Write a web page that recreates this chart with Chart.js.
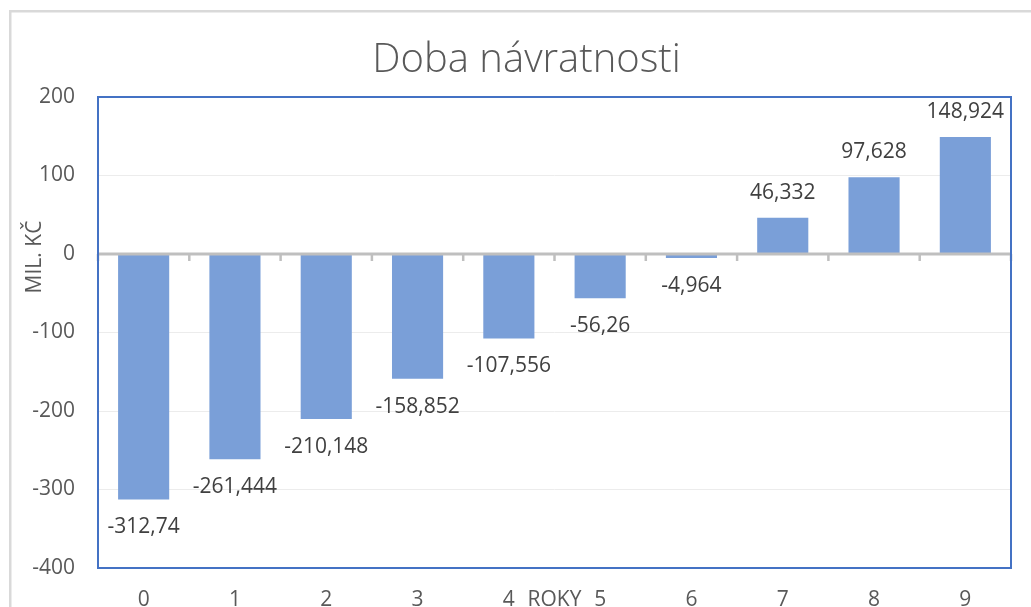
<!DOCTYPE html>
<html>
<head>
<meta charset="utf-8">
<script src="https://cdn.jsdelivr.net/npm/chart.js@4"></script>
<style>
html,body{margin:0;padding:0;background:#fff;}
#wrap{width:1031px;height:607px;position:relative;}
</style>
</head>
<body>
<div id="wrap"><canvas id="c" width="1031" height="607"></canvas></div>
<script>
const chartTitle = 'Doba návratnosti';
const xTitle = 'ROKY';
const yTitle = 'MIL. KČ';
const categories = ['0','1','2','3','4','5','6','7','8','9'];
const values = [-312.74, -261.444, -210.148, -158.852, -107.556, -56.26, -4.964, 46.332, 97.628, 148.924];
const yTicks = [-400, -300, -200, -100, 0, 100, 200];

const FONT = "'Open Sans', 'Noto Sans', sans-serif";
const fmt = v => String(v).replace('.', ',');

const decor = {
  id: 'decor',
  beforeDraw(chart) {
    const ctx = chart.ctx;
    ctx.save();
    ctx.fillStyle = '#ffffff';
    ctx.fillRect(0, 0, chart.width, chart.height);
    ctx.strokeStyle = '#d9d9d9';
    ctx.lineWidth = 2.5;
    ctx.strokeRect(10.25, 11.25, chart.width + 50, chart.height + 50);
    ctx.restore();
  },
  afterDatasetsDraw(chart) {
    const ctx = chart.ctx;
    const a = chart.chartArea;
    const x = chart.scales.x, y = chart.scales.y;
    const y0 = y.getPixelForValue(0);
    ctx.save();
    ctx.strokeStyle = '#bfbfbf';
    ctx.lineWidth = 3;
    ctx.beginPath();
    ctx.moveTo(a.left - 1, y0);
    ctx.lineTo(a.right + 1, y0);
    ctx.stroke();
    ctx.lineWidth = 2.5;
    const n = categories.length;
    const step = x.getPixelForValue(1) - x.getPixelForValue(0);
    for (let i = 0; i <= n; i++) {
      const px = (i < n) ? x.getPixelForValue(i) - step / 2 : x.getPixelForValue(n - 1) + step / 2;
      ctx.beginPath();
      ctx.moveTo(px, y0);
      ctx.lineTo(px, y0 + 7);
      ctx.stroke();
    }
    const meta = chart.getDatasetMeta(0);
    ctx.font = '21px ' + FONT;
    ctx.fillStyle = '#404040';
    ctx.textAlign = 'center';
    ctx.textBaseline = 'middle';
    meta.data.forEach((bar, i) => {
      const v = values[i];
      const ly = v >= 0 ? bar.y - 25 : bar.y + 28;
      ctx.fillText(fmt(v), bar.x, ly);
    });
    ctx.restore();
  },
  afterDraw(chart) {
    const ctx = chart.ctx;
    const a = chart.chartArea;
    ctx.save();
    ctx.strokeStyle = '#4472C4';
    ctx.lineWidth = 2;
    ctx.strokeRect(a.left, a.top, a.right - a.left, a.bottom - a.top);
    ctx.fillStyle = '#595959';
    ctx.textAlign = 'center';
    ctx.textBaseline = 'middle';
    // chart title (centred on the outer chart frame, which extends past the view)
    ctx.font = '300 40px ' + FONT;
    ctx.fillText(chartTitle, 526.5, 61);
    ctx.font = '21px ' + FONT;
    ctx.fillText(xTitle, (a.left + a.right) / 2, a.bottom + 19 + 12.6);
    ctx.translate(35, chart.scales.y.getPixelForValue(0) + 3);
    ctx.rotate(-Math.PI / 2);
    ctx.fillText(yTitle, 0, 0);
    ctx.restore();
  }
};

new Chart(document.getElementById('c'), {
  type: 'bar',
  data: {
    labels: categories,
    datasets: [{
      data: values,
      backgroundColor: '#7A9FD8',
      borderWidth: 0,
      barPercentage: 0.56,
      categoryPercentage: 1.0
    }]
  },
  options: {
    responsive: false,
    animation: false,
    devicePixelRatio: 1,
    layout: { padding: { left: 0, right: 20, top: 97, bottom: 0 } },
    plugins: {
      legend: { display: false },
      tooltip: { enabled: false },
      title: { display: false }
    },
    scales: {
      x: {
        type: 'category',
        grid: { display: false, drawTicks: false },
        border: { display: false },
        ticks: { color: '#595959', font: { family: FONT, size: 21 }, padding: 19, maxRotation: 0 },
        afterFit(s) { s.height = 39; }
      },
      y: {
        min: -400,
        max: 200,
        afterBuildTicks(s) { s.ticks = yTicks.map(v => ({ value: v })); },
        grid: {
          drawTicks: false,
          color: c => (c.tick && c.tick.value === 0) ? 'rgba(0,0,0,0)' : '#ececec',
          lineWidth: 1
        },
        border: { display: false },
        ticks: { color: '#595959', font: { family: FONT, size: 21 }, padding: 23 },
        afterFit(s) { s.width = 98; }
      }
    }
  },
  plugins: [decor]
});
</script>
</body>
</html>
